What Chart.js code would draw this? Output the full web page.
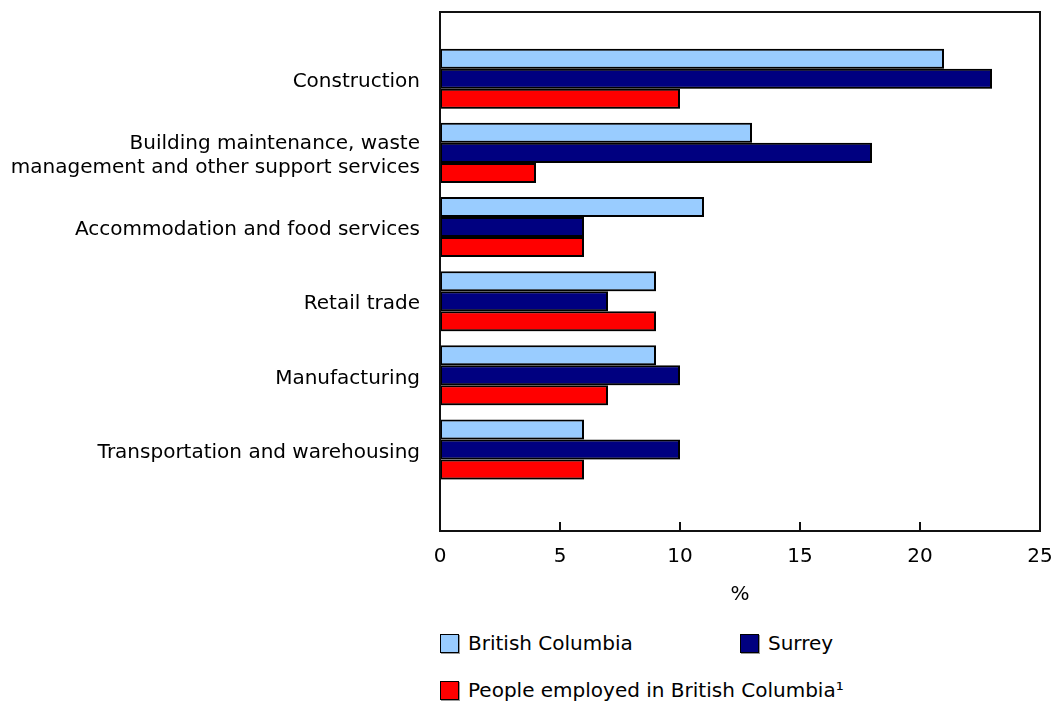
<!DOCTYPE html>
<html>
<head>
<meta charset="utf-8">
<script src="https://cdn.jsdelivr.net/npm/chart.js@4/dist/chart.umd.min.js"></script>
<style>
    html, body { margin: 0; padding: 0; background: #fff; }
    #wrap { position: relative; width: 1054px; height: 702px; overflow: hidden; }
    #chart { position: absolute; left: 0; top: 0; }
    .legend-item { position: absolute; display: flex; align-items: center; line-height: 24px;
        font-family: "DejaVu Sans", Verdana, sans-serif; font-size: 20px; color: #000; white-space: nowrap; }
    .legend-box { width: 17px; height: 17px; border: 1.5px solid #000; margin-right: 9px; box-shadow: 1px 1px 0 #999; }
</style>
</head>
<body>
<div id="wrap">
    <canvas id="chart" width="1054" height="615"></canvas>
    <div id="legend"></div>
</div>
<script>
const categories = [
    'Construction',
    ['Building maintenance, waste', 'management and other support services'],
    'Accommodation and food services',
    'Retail trade',
    'Manufacturing',
    'Transportation and warehousing'
];
const seriesNames = ['British Columbia', 'Surrey', 'People employed in British Columbia\u00b9'];
const seriesColors = ['#99ccff', '#000080', '#ff0000'];
const britishColumbia = [21, 13, 11, 9, 9, 6];
const surrey = [23, 18, 6, 7, 10, 10];
const peopleEmployed = [10, 4, 6, 9, 7, 6];
const xTicks = [0, 5, 10, 15, 20, 25];

const FONT = '"DejaVu Sans", Verdana, sans-serif';
const TEXT = '#000';

// bars sit on a numeric index axis so the empty space below the last group can be kept
const toPoints = (values) => values.map((v, i) => ({ x: v, y: i }));

// frame around the plot and small inward tick marks on the x axis
const framePlugin = {
    id: 'frame',
    afterDraw(chart) {
        const { ctx, chartArea } = chart;
        const xs = chart.scales.x;
        ctx.save();
        ctx.strokeStyle = '#111';
        ctx.lineWidth = 2;
        ctx.strokeRect(chartArea.left, chartArea.top, chartArea.right - chartArea.left, chartArea.bottom - chartArea.top);
        ctx.beginPath();
        xTicks.forEach(t => {
            const px = Math.round(xs.getPixelForValue(t));
            ctx.moveTo(px, chartArea.bottom);
            ctx.lineTo(px, chartArea.bottom - 9);
        });
        ctx.stroke();
        ctx.restore();
    }
};

const shadowPlugin = {
    id: 'barShadow',
    beforeDatasetsDraw(chart) {
        const ctx = chart.ctx;
        ctx.save();
        ctx.shadowColor = 'rgba(0,0,0,0.35)';
        ctx.shadowOffsetX = 1;
        ctx.shadowOffsetY = 1;
        ctx.shadowBlur = 0;
    },
    afterDatasetsDraw(chart) {
        chart.ctx.restore();
    }
};

const seriesData = [britishColumbia, surrey, peopleEmployed];

new Chart(document.getElementById('chart'), {
    type: 'bar',
    data: {
        datasets: seriesData.map((values, i) => ({
            label: seriesNames[i],
            data: toPoints(values),
            backgroundColor: seriesColors[i],
            borderColor: '#000',
            borderWidth: 2,
            borderSkipped: false,
            categoryPercentage: 0.81,
            barPercentage: 1.0
        }))
    },
    options: {
        indexAxis: 'y',
        responsive: false,
        animation: false,
        layout: { padding: { top: 12, right: 14, left: 0, bottom: 0 } },
        plugins: {
            legend: { display: false },
            tooltip: { enabled: false }
        },
        scales: {
            x: {
                type: 'linear',
                min: 0,
                max: 25,
                afterBuildTicks: (scale) => { scale.ticks = xTicks.map(v => ({ value: v })); },
                grid: { display: false },
                border: { display: false },
                ticks: { color: TEXT, font: { family: FONT, size: 20 }, padding: 6, maxRotation: 0 },
                title: {
                    display: true,
                    text: '%',
                    color: TEXT,
                    font: { family: FONT, size: 20 },
                    padding: { top: 0, bottom: 8 }
                },
                afterFit: (scale) => {
                    scale.height = 84;
                    scale.paddingLeft = 0;
                    scale.paddingRight = 0;
                }
            },
            y: {
                type: 'linear',
                offset: false,
                reverse: true,
                min: -0.9,
                max: 6.1,
                afterBuildTicks: (scale) => { scale.ticks = categories.map((c, i) => ({ value: i })); },
                grid: { display: false },
                border: { display: false },
                ticks: {
                    color: TEXT,
                    font: { family: FONT, size: 20, lineHeight: 1.2 },
                    padding: 12,
                    labelOffset: 3,
                    callback: (v) => categories[v]
                },
                afterFit: (scale) => {
                    scale.width = 440;
                    scale.paddingTop = 0;
                    scale.paddingBottom = 0;
                }
            }
        }
    },
    plugins: [shadowPlugin, framePlugin]
});

// legend laid out like the original: two items on the first row, one on the second
const legendSpots = [[440, 631], [740, 631], [440, 678]];
const legend = document.getElementById('legend');
seriesNames.forEach((name, i) => {
    const item = document.createElement('div');
    item.className = 'legend-item';
    item.style.left = legendSpots[i][0] + 'px';
    item.style.top = legendSpots[i][1] + 'px';
    const box = document.createElement('span');
    box.className = 'legend-box';
    box.style.background = seriesColors[i];
    const label = document.createElement('span');
    label.textContent = name;
    item.appendChild(box);
    item.appendChild(label);
    legend.appendChild(item);
});
</script>
</body>
</html>
